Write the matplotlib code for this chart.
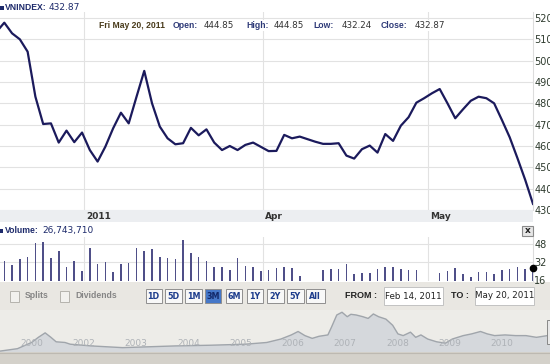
import numpy as np
import matplotlib.pyplot as plt
from matplotlib.patches import Rectangle
from matplotlib.transforms import blended_transform_factory

W, H = 550, 364

# VN-Index daily closes, first value is the day before the window (off the left edge)
closes = [513.5, 517.8, 512.8, 510.0, 504.2, 483.1, 470.3, 470.6, 461.6, 467.2, 461.8,
          466.3, 458.1, 452.7, 459.7, 468.3, 475.6, 470.6, 483.0, 495.2, 480.0,
          469.1, 463.6, 460.8, 461.3, 468.5, 465.0, 467.8, 461.6, 458.1, 460.0,
          458.1, 460.5, 461.6, 459.6, 457.6, 457.7, 465.2, 463.6, 464.4, 463.2,
          462.0, 461.0, 461.0, 461.3, 455.5, 454.1, 458.5, 460.2, 456.9, 465.6,
          462.4, 469.5, 473.5, 480.3, 482.4, 484.7, 486.7, 480.0, 473.0, 477.2,
          481.2, 483.1, 482.4, 480.0, 472.2, 464.1, 454.3, 444.1, 432.87]
# volume, millions of shares
volumes = [30.0, 33.2, 29.3, 34.7, 36.7, 48.6, 50.0, 35.3, 41.8, 27.8, 33.2,
           24.3, 44.2, 30.2, 32.3, 23.4, 30.0, 31.4, 44.2, 42.0, 43.6,
           36.2, 35.3, 34.7, 51.6, 40.3, 36.2, 33.2, 27.3, 27.8, 24.9,
           35.3, 28.4, 27.3, 24.0, 24.9, 26.4, 27.8, 26.4, 19.6, 15.5,
           15.5, 24.9, 25.8, 25.8, 30.0, 21.3, 22.5, 22.5, 25.8, 27.8,
           27.8, 25.8, 24.9, 24.9, 15.5, 15.5, 22.5, 24.3, 26.4, 21.3,
           18.9, 22.8, 23.4, 21.1, 24.9, 25.8, 27.8, 25.8, 26.74]
days = np.arange(len(closes)) - 1

month_pos = [10.3, 33.3, 54.5]
month_lab = ["2011", "Apr", "May"]
price_ticks = [430, 440, 450, 460, 470, 480, 490, 500, 510, 520]
vol_ticks = [16, 32, 48]

# long-run overview (position in label slots, index value)
ov_pos = [-0.60, -0.27, 0.0, 0.13, 0.26, 0.37, 0.47, 0.64, 0.74, 1.14, 1.74, 2.75,
          3.42, 4.09, 4.50, 4.77, 4.97, 5.10, 5.23, 5.37, 5.50, 5.67, 5.74, 5.84,
          5.94, 6.04, 6.11, 6.21, 6.34, 6.44, 6.54, 6.64, 6.78, 6.91, 7.01, 7.11,
          7.25, 7.35, 7.45, 7.58, 7.75, 7.92, 8.05, 8.26, 8.42, 8.59, 8.72, 8.86,
          9.06, 9.26, 9.46, 9.66, 9.87, 9.95]
ov_val = [40, 110, 290, 440, 570, 440, 310, 290, 240, 190, 140, 190,
          210, 240, 290, 390, 510, 610, 490, 410, 470, 510, 740, 1090,
          1170, 1040, 1110, 1090, 1040, 990, 1120, 1040, 970, 790, 540, 490,
          590, 440, 510, 390, 310, 270, 390, 490, 540, 610, 540, 490,
          510, 490, 490, 440, 490, 480]
ov_labels = ["2000", "2002", "2003", "2004", "2005", "2006", "2007", "2008", "2009", "2010"]

buttons = ["1D", "5D", "1M", "3M", "6M", "1Y", "2Y", "5Y", "All"]
btn_x = [145.6, 165, 185, 205, 226, 247, 267, 287, 306]
btn_w = [16, 17, 17, 16, 16, 16, 16.5, 16.5, 18.5]

navy = "#1b1a5c"
grid = "#e2e2e2"
bold_font = "Liberation Sans"


def rect(x0, y0, x1, y1):
    return [x0 / W, 1 - y1 / H, (x1 - x0) / W, (y1 - y0) / H]


fig = plt.figure(figsize=(5.5, 3.64), dpi=100, facecolor="white")

# background chrome in pixel coordinates
bg = fig.add_axes([0, 0, 1, 1], zorder=0)
bg.set_xlim(0, W)
bg.set_ylim(H, 0)
bg.axis("off")
bg.add_patch(Rectangle((0, 210), 533, 12, color="#eceef1", lw=0))
bg.add_patch(Rectangle((0, 282), W, 28, color="#e9e7e2", lw=0))
bg.add_patch(Rectangle((0, 352), W, 12, color="#d4d1ca", lw=0))
bg.plot([0, W], [352.5, 352.5], color="#bdb9b1", lw=0.8)

# price panel
ax = fig.add_axes(rect(0, 12, 533, 210), zorder=2)
ax.patch.set_alpha(0)
ax.plot(days, closes, color=navy, lw=1.6, solid_joinstyle="round")
ax.set_xlim(-0.553, 68.0)
ax.set_ylim(430.05, 522.8)
for v in price_ticks:
    ax.axhline(v, color=grid, lw=0.8, zorder=0)
for p in month_pos:
    ax.axvline(p, color=grid, lw=0.8, zorder=0)
ax.set_xticks([])
ax.yaxis.tick_right()
ax.set_yticks(price_ticks)
ax.tick_params(axis="y", length=0, pad=1, labelsize=7, labelcolor="#2d3a2d")
for s in ["top", "left", "bottom"]:
    ax.spines[s].set_visible(False)
ax.spines["right"].set_color("#dcdcdc")

# month labels in the band under the price panel
band = fig.add_axes(rect(0, 210, 533, 222), zorder=2)
band.patch.set_alpha(0)
band.set_xlim(ax.get_xlim())
band.set_ylim(0, 1)
band.axis("off")
for p, lab in zip(month_pos, month_lab):
    band.text(p + 0.25, 0.5, lab, ha="left", va="center", fontsize=6.5,
              fontweight="bold", color="#333333")

# volume panel
vx = fig.add_axes(rect(0, 237, 533, 281), zorder=2)
vx.patch.set_alpha(0)
vx.bar(days, volumes, width=0.2, color="#4f4f88", bottom=0)
vx.plot(days[-1], volumes[-1], "o", color="black", ms=4.5, clip_on=False, zorder=5)
vx.set_xlim(ax.get_xlim())
vx.set_ylim(15.1, 54.2)
for v in vol_ticks[1:]:
    vx.axhline(v, color=grid, lw=0.8, zorder=0)
for p in month_pos:
    vx.axvline(p, color=grid, lw=0.8, zorder=0)
vx.set_xticks([])
vx.yaxis.tick_right()
vx.set_yticks(vol_ticks)
vx.tick_params(axis="y", length=0, pad=1, labelsize=7, labelcolor="#2d3a2d")
for s in ["top", "left", "bottom"]:
    vx.spines[s].set_visible(False)
vx.spines["right"].set_color("#dcdcdc")

# overview strip
ov = fig.add_axes(rect(0, 310, W, 352), zorder=2)
ov.set_facecolor("#edece8")
ov.fill_between(ov_pos, ov_val, 0, color="#d5d8dc", lw=0)
ov.plot(ov_pos, ov_val, color="#a0a5ab", lw=1.0)
ov.set_xlim(-0.604, 9.92)
ov.set_ylim(13, 1235)
ov.set_xticks([])
ov.set_yticks([])
for s in ov.spines.values():
    s.set_visible(False)
for k, lab in enumerate(ov_labels):
    ov.text(k, 0.2, lab, transform=blended_transform_factory(ov.transData, ov.transAxes),
            ha="center", va="center", fontsize=6.5, color="#aeb2b7")

# foreground texts and widgets
fg = fig.add_axes([0, 0, 1, 1], zorder=5)
fg.set_xlim(0, W)
fg.set_ylim(H, 0)
fg.axis("off")
fg.patch.set_alpha(0)

fg.add_patch(Rectangle((0, 5.5), 3.5, 4, color="#1d2a6b", lw=0))
fg.text(4.5, 7.5, "VNINDEX:", fontsize=6.2, fontweight="bold", family=bold_font,
        color="#1d2a6b", va="center")
fg.text(49, 7.5, "432.87", fontsize=6.5, color="#1d2a6b", va="center")

fg.add_patch(Rectangle((95, 19.5), 352, 11.5, color="white", lw=0))
fg.text(99, 25, "Fri May 20, 2011", fontsize=6.2, fontweight="bold", family=bold_font,
        color="#4a3c1c", va="center")
hdr = [(173, "Open:", 204, "444.85"), (246, "High:", 274, "444.85"),
       (313, "Low:", 342, "432.24"), (381, "Close:", 415, "432.87")]
for lx, lab, vxp, val in hdr:
    fg.text(lx, 25, lab, fontsize=6.2, fontweight="bold", family=bold_font,
            color="#2e3a78", va="center")
    fg.text(vxp, 25, val, fontsize=6.3, color="#333333", va="center")

fg.add_patch(Rectangle((0, 228.5), 3, 4, color="#1d2a6b", lw=0))
fg.text(4.5, 230.7, "Volume:", fontsize=6.2, fontweight="bold", family=bold_font,
        color="#1d2a6b", va="center")
fg.text(42, 230.7, "26,743,710", fontsize=6.5, color="#1d2a6b", va="center")

fg.add_patch(Rectangle((522, 226), 11, 10, facecolor="#e6e6e6", edgecolor="#8a8a8a", lw=0.8))
fg.text(527.5, 230.8, "x", fontsize=6.5, fontweight="bold", color="#222222", ha="center", va="center")

# controls
for bx, lab, tx in [(10, "Splits", 25), (60, "Dividends", 75)]:
    fg.add_patch(Rectangle((bx, 290.5), 9, 11, facecolor="#f2f1ee", edgecolor="#b5b3ad", lw=0.7))
    fg.text(tx, 296, lab, fontsize=6.2, fontweight="bold", family=bold_font,
            color="#858585", va="center")

for lab, bx, bw in zip(buttons, btn_x, btn_w):
    sel = lab == "3M"
    fg.add_patch(Rectangle((bx, 289), bw, 14, facecolor="#4577c8" if sel else "#f8f8f8",
                           edgecolor="#8f8f8f", lw=0.7))
    fg.text(bx + bw / 2, 296.2, lab, fontsize=5.8, fontweight="bold",
            color="#13296a" if sel else "#1d3c8c", ha="center", va="center")

fg.text(361, 296, "FROM :", fontsize=6.5, fontweight="bold", family=bold_font,
        color="#222222", ha="center", va="center")
fg.add_patch(Rectangle((384, 287), 59, 17.5, facecolor="white", edgecolor="#c2c2c2", lw=0.7))
fg.text(413.5, 296, "Feb 14, 2011", fontsize=6.3, color="#222222", ha="center", va="center")
fg.text(459.5, 296, "TO :", fontsize=6.5, fontweight="bold", family=bold_font,
        color="#222222", ha="center", va="center")
fg.add_patch(Rectangle((475, 287), 59, 17.5, facecolor="white", edgecolor="#c2c2c2", lw=0.7))
fg.text(504.5, 296, "May 20, 2011", fontsize=6.3, color="#222222", ha="center", va="center")

fg.add_patch(Rectangle((547, 320), 5, 24, facecolor="#e8e8e8", edgecolor="#888888", lw=0.7))

fig.savefig("out.png", dpi=100)
